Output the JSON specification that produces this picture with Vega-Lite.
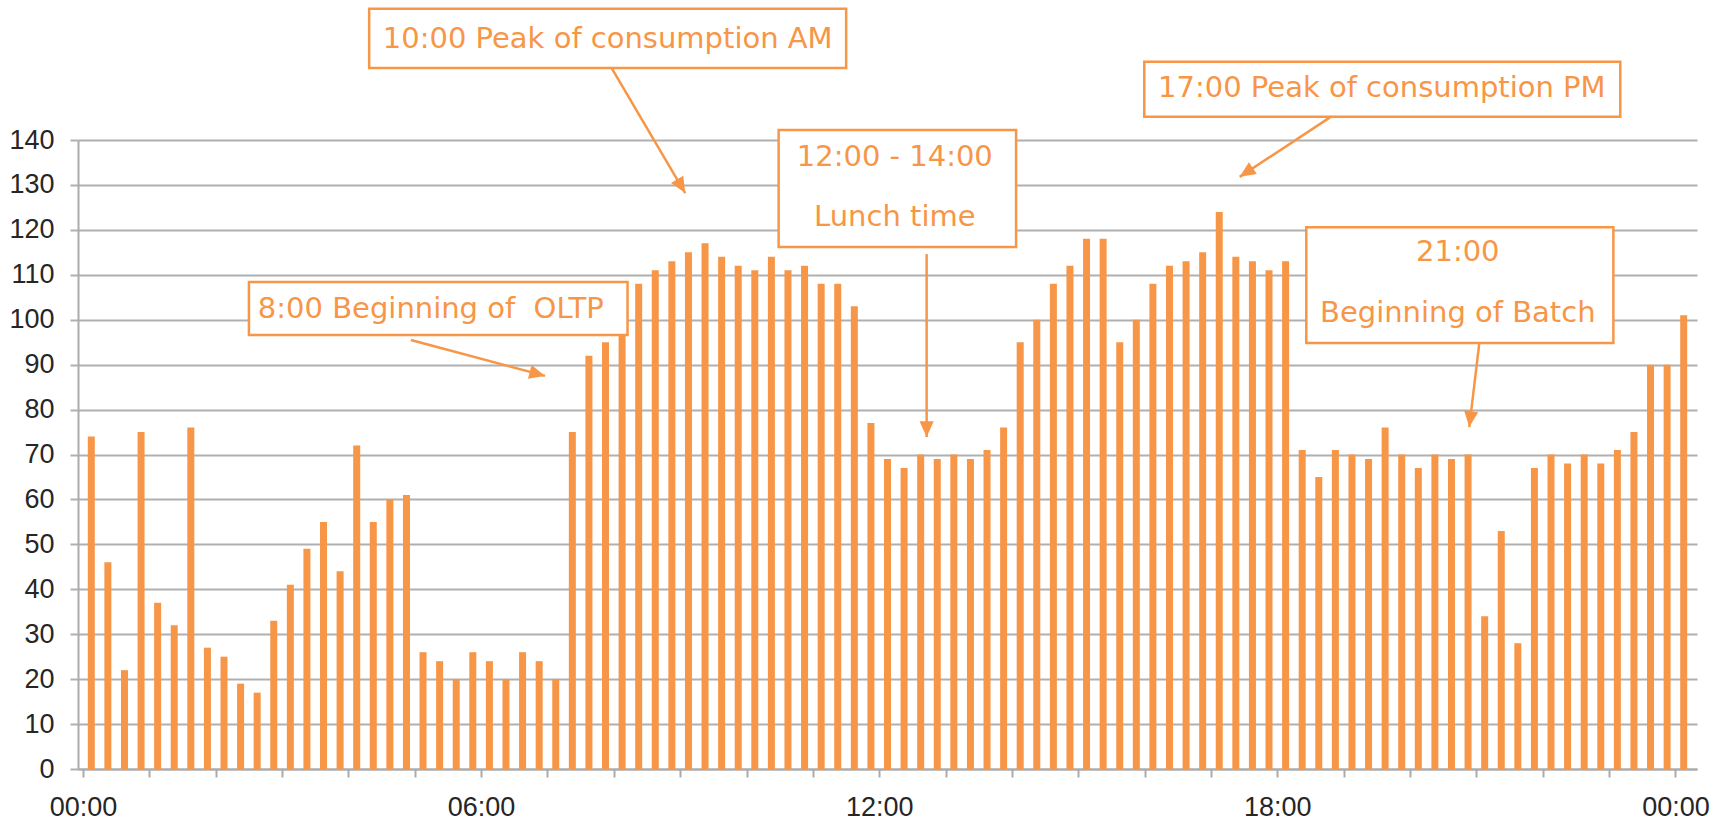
{
  "$schema": "https://vega.github.io/schema/vega-lite/v6.json",
  "width": 1619,
  "height": 629,
  "autosize": {"type": "none"},
  "padding": {"left": 78, "top": 140, "right": 32, "bottom": 59},
  "background": "white",
  "config": {"view": {"stroke": null}},
  "datasets": {
    "load": [
      {"t": "00:00", "h": 0, "v": 74}, {"t": "00:15", "h": 0.25, "v": 46}, {"t": "00:30", "h": 0.5, "v": 22}, {"t": "00:45", "h": 0.75, "v": 75},
      {"t": "01:00", "h": 1, "v": 37}, {"t": "01:15", "h": 1.25, "v": 32}, {"t": "01:30", "h": 1.5, "v": 76}, {"t": "01:45", "h": 1.75, "v": 27},
      {"t": "02:00", "h": 2, "v": 25}, {"t": "02:15", "h": 2.25, "v": 19}, {"t": "02:30", "h": 2.5, "v": 17}, {"t": "02:45", "h": 2.75, "v": 33},
      {"t": "03:00", "h": 3, "v": 41}, {"t": "03:15", "h": 3.25, "v": 49}, {"t": "03:30", "h": 3.5, "v": 55}, {"t": "03:45", "h": 3.75, "v": 44},
      {"t": "04:00", "h": 4, "v": 72}, {"t": "04:15", "h": 4.25, "v": 55}, {"t": "04:30", "h": 4.5, "v": 60}, {"t": "04:45", "h": 4.75, "v": 61},
      {"t": "05:00", "h": 5, "v": 26}, {"t": "05:15", "h": 5.25, "v": 24}, {"t": "05:30", "h": 5.5, "v": 20}, {"t": "05:45", "h": 5.75, "v": 26},
      {"t": "06:00", "h": 6, "v": 24}, {"t": "06:15", "h": 6.25, "v": 20}, {"t": "06:30", "h": 6.5, "v": 26}, {"t": "06:45", "h": 6.75, "v": 24},
      {"t": "07:00", "h": 7, "v": 20}, {"t": "07:15", "h": 7.25, "v": 75}, {"t": "07:30", "h": 7.5, "v": 92}, {"t": "07:45", "h": 7.75, "v": 95},
      {"t": "08:00", "h": 8, "v": 100}, {"t": "08:15", "h": 8.25, "v": 108}, {"t": "08:30", "h": 8.5, "v": 111}, {"t": "08:45", "h": 8.75, "v": 113},
      {"t": "09:00", "h": 9, "v": 115}, {"t": "09:15", "h": 9.25, "v": 117}, {"t": "09:30", "h": 9.5, "v": 114}, {"t": "09:45", "h": 9.75, "v": 112},
      {"t": "10:00", "h": 10, "v": 111}, {"t": "10:15", "h": 10.25, "v": 114}, {"t": "10:30", "h": 10.5, "v": 111}, {"t": "10:45", "h": 10.75, "v": 112},
      {"t": "11:00", "h": 11, "v": 108}, {"t": "11:15", "h": 11.25, "v": 108}, {"t": "11:30", "h": 11.5, "v": 103}, {"t": "11:45", "h": 11.75, "v": 77},
      {"t": "12:00", "h": 12, "v": 69}, {"t": "12:15", "h": 12.25, "v": 67}, {"t": "12:30", "h": 12.5, "v": 70}, {"t": "12:45", "h": 12.75, "v": 69},
      {"t": "13:00", "h": 13, "v": 70}, {"t": "13:15", "h": 13.25, "v": 69}, {"t": "13:30", "h": 13.5, "v": 71}, {"t": "13:45", "h": 13.75, "v": 76},
      {"t": "14:00", "h": 14, "v": 95}, {"t": "14:15", "h": 14.25, "v": 100}, {"t": "14:30", "h": 14.5, "v": 108}, {"t": "14:45", "h": 14.75, "v": 112},
      {"t": "15:00", "h": 15, "v": 118}, {"t": "15:15", "h": 15.25, "v": 118}, {"t": "15:30", "h": 15.5, "v": 95}, {"t": "15:45", "h": 15.75, "v": 100},
      {"t": "16:00", "h": 16, "v": 108}, {"t": "16:15", "h": 16.25, "v": 112}, {"t": "16:30", "h": 16.5, "v": 113}, {"t": "16:45", "h": 16.75, "v": 115},
      {"t": "17:00", "h": 17, "v": 124}, {"t": "17:15", "h": 17.25, "v": 114}, {"t": "17:30", "h": 17.5, "v": 113}, {"t": "17:45", "h": 17.75, "v": 111},
      {"t": "18:00", "h": 18, "v": 113}, {"t": "18:15", "h": 18.25, "v": 71}, {"t": "18:30", "h": 18.5, "v": 65}, {"t": "18:45", "h": 18.75, "v": 71},
      {"t": "19:00", "h": 19, "v": 70}, {"t": "19:15", "h": 19.25, "v": 69}, {"t": "19:30", "h": 19.5, "v": 76}, {"t": "19:45", "h": 19.75, "v": 70},
      {"t": "20:00", "h": 20, "v": 67}, {"t": "20:15", "h": 20.25, "v": 70}, {"t": "20:30", "h": 20.5, "v": 69}, {"t": "20:45", "h": 20.75, "v": 70},
      {"t": "21:00", "h": 21, "v": 34}, {"t": "21:15", "h": 21.25, "v": 53}, {"t": "21:30", "h": 21.5, "v": 28}, {"t": "21:45", "h": 21.75, "v": 67},
      {"t": "22:00", "h": 22, "v": 70}, {"t": "22:15", "h": 22.25, "v": 68}, {"t": "22:30", "h": 22.5, "v": 70}, {"t": "22:45", "h": 22.75, "v": 68},
      {"t": "23:00", "h": 23, "v": 71}, {"t": "23:15", "h": 23.25, "v": 75}, {"t": "23:30", "h": 23.5, "v": 90}, {"t": "23:45", "h": 23.75, "v": 90},
      {"t": "24:00", "h": 24, "v": 101}
    ],
    "boxes": [
      {"h": 4.188, "h2": 11.377, "v": 156.0, "v2": 169.2},
      {"h": 2.376, "h2": 8.082, "v": 96.6, "v2": 108.4},
      {"h": 10.359, "h2": 13.938, "v": 116.2, "v2": 142.2},
      {"h": 15.87, "h2": 23.044, "v": 145.2, "v2": 157.4},
      {"h": 18.312, "h2": 22.94, "v": 94.8, "v2": 120.6}
    ],
    "arrows": [
      {"h": 7.843, "v": 156.0, "h2": 8.951, "v2": 128.2, "heading": 149.4},
      {"h": 4.817, "v": 95.5, "h2": 6.839, "v2": 87.5, "heading": 105},
      {"h": 12.59, "v": 114.6, "h2": 12.59, "v2": 73.9, "heading": 180},
      {"h": 18.686, "v": 145.2, "h2": 17.308, "v2": 131.8, "heading": 236.4},
      {"h": 20.918, "v": 94.6, "h2": 20.768, "v2": 76.1, "heading": 186.9}
    ],
    "labels": [
      {"h": 7.783, "v": 162.5, "text": "10:00 Peak of consumption AM"},
      {"h": 5.117, "v": 102.4, "text": "8:00 Beginning of\u00a0 OLTP"},
      {"h": 12.11, "v": 136.3, "text": "12:00 - 14:00"},
      {"h": 12.11, "v": 122.8, "text": "Lunch time"},
      {"h": 19.45, "v": 151.5, "text": "17:00 Peak of consumption PM"},
      {"h": 20.595, "v": 115.0, "text": "21:00"},
      {"h": 20.595, "v": 101.5, "text": "Beginning of Batch"}
    ]
  },
  "layer": [
    {
      "data": {"name": "load"},
      "mark": {"type": "bar", "color": "#F79646", "size": 7, "orient": "vertical"},
      "encoding": {
        "x": {
          "field": "h", "type": "quantitative", "title": null,
          "scale": {"domain": [-0.125, 24.125], "nice": false, "zero": false},
          "axis": {
            "title": null, "grid": false,
            "values": [-0.125, 0.875, 1.875, 2.875, 3.875, 4.875, 5.875, 6.875, 7.875, 8.875, 9.875, 10.875, 11.875, 12.875, 13.875, 14.875, 15.875, 16.875, 17.875, 18.875, 19.875, 20.875, 21.875, 22.875, 23.875],
            "labelExpr": "datum.value == -0.125 ? '00:00' : datum.value == 5.875 ? '06:00' : datum.value == 11.875 ? '12:00' : datum.value == 17.875 ? '18:00' : datum.value == 23.875 ? '00:00' : ''",
            "labelDx": 8.35, "labelAlign": "center", "labelFlush": false, "labelOverlap": false,
            "labelFont": "Liberation Sans", "labelFontSize": 27, "labelColor": "#262626", "labelPadding": 17,
            "domainColor": "#ABABAB", "domainWidth": 2, "tickColor": "#ABABAB", "tickWidth": 2, "tickSize": 8
          }
        },
        "y": {
          "field": "v", "type": "quantitative", "title": null,
          "scale": {"domain": [0, 140], "nice": false},
          "axis": {
            "title": null, "grid": true, "gridColor": "#B0B0B0", "gridWidth": 2,
            "values": [0, 10, 20, 30, 40, 50, 60, 70, 80, 90, 100, 110, 120, 130, 140],
            "labelFont": "Liberation Sans", "labelFontSize": 27, "labelColor": "#262626", "labelPadding": 16,
            "domainColor": "#ABABAB", "domainWidth": 2, "tickColor": "#B0B0B0", "tickWidth": 2, "tickSize": 8
          }
        }
      }
    },
    {
      "data": {"name": "boxes"},
      "mark": {"type": "rect", "fill": "white", "stroke": "#F79646", "strokeWidth": 2.5},
      "encoding": {
        "x": {"field": "h", "type": "quantitative", "title": null},
        "x2": {"field": "h2"},
        "y": {"field": "v", "type": "quantitative", "title": null},
        "y2": {"field": "v2"}
      }
    },
    {
      "data": {"name": "arrows"},
      "mark": {"type": "rule", "color": "#F79646", "strokeWidth": 2.5},
      "encoding": {
        "x": {"field": "h", "type": "quantitative", "title": null},
        "x2": {"field": "h2"},
        "y": {"field": "v", "type": "quantitative", "title": null},
        "y2": {"field": "v2"}
      }
    },
    {
      "data": {"name": "arrows"},
      "mark": {"type": "point", "shape": "M0,0L0.9,2L-0.9,2Z", "filled": true, "color": "#F79646", "opacity": 1, "size": 250},
      "encoding": {
        "x": {"field": "h2", "type": "quantitative", "title": null},
        "y": {"field": "v2", "type": "quantitative", "title": null},
        "angle": {"field": "heading", "type": "quantitative", "scale": null}
      }
    },
    {
      "data": {"name": "labels"},
      "mark": {"type": "text", "font": "DejaVu Sans", "fontSize": 29, "color": "#F79646", "align": "center", "baseline": "middle"},
      "encoding": {
        "x": {"field": "h", "type": "quantitative", "title": null},
        "y": {"field": "v", "type": "quantitative", "title": null},
        "text": {"field": "text"}
      }
    }
  ]
}
